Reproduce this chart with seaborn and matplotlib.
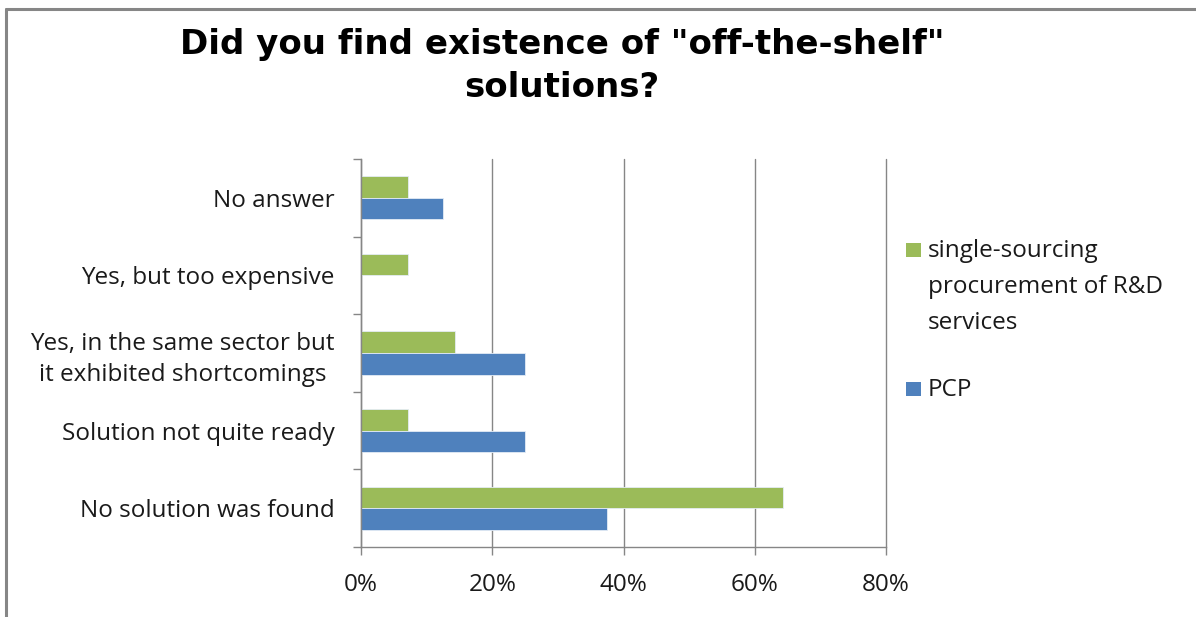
import matplotlib
matplotlib.use("Agg")
import matplotlib.pyplot as plt
from matplotlib.lines import Line2D
from matplotlib.patches import Rectangle
from matplotlib.ticker import FuncFormatter, FixedLocator
import seaborn as sns
import pandas as pd

# Survey answers, top to bottom
categories = [
    "No answer",
    "Yes, but too expensive",
    "Yes, in the same sector but\nit exhibited shortcomings",
    "Solution not quite ready",
    "No solution was found",
]
series_names = ["single-sourcing\nprocurement of R&D\nservices", "PCP"]
single_sourcing = [7.1, 7.1, 14.3, 7.1, 64.3]
pcp = [12.5, 0.0, 25.0, 25.0, 37.5]
x_ticks = [0, 20, 40, 60, 80]

colors = {series_names[0]: "#9BBB59", series_names[1]: "#4F81BD"}
text_color = "#1a1a1a"
frame_gray = "#868686"
label_size = 17.5

df = pd.DataFrame({
    "answer": categories * 2,
    "series": [series_names[0]] * len(categories) + [series_names[1]] * len(categories),
    "value": single_sourcing + pcp,
})

sns.set_theme(style="white")
plt.rcParams["font.family"] = ["Open Sans", "DejaVu Sans"]

W, H = 1196, 617
fig = plt.figure(figsize=(W / 100, H / 100), dpi=100)
ax = fig.add_axes([361 / W, 70 / H, 525 / W, 388 / H])

sns.barplot(
    data=df, x="value", y="answer", hue="series", orient="h",
    order=categories, hue_order=series_names, palette=colors, saturation=1,
    width=0.555, ax=ax, legend=False, edgecolor="#e4ecf5", linewidth=0.6,
    errorbar=None,
)

ax.set_xlim(0, 80)
ax.set_ylim(len(categories) - 0.5, -0.5)
ax.xaxis.set_major_locator(FixedLocator(x_ticks))
ax.xaxis.set_major_formatter(FuncFormatter(lambda v, p: f"{v:.0f}%"))
ax.grid(axis="x", color=frame_gray, linewidth=1.0)
ax.grid(axis="y", visible=False)
ax.set_axisbelow(True)
for gl in ax.get_xgridlines():
    gl.set_clip_on(False)
ax.set_xlabel("")
ax.set_ylabel("")

for side in ["top", "right"]:
    ax.spines[side].set_visible(False)
for side in ["left", "bottom"]:
    ax.spines[side].set_color(frame_gray)
    ax.spines[side].set_linewidth(1.0)

# Category boundary ticks on y, labels centred between them
ax.set_yticks([i + 0.5 for i in range(-1, len(categories))], minor=True)
ax.tick_params(axis="y", which="minor", length=6, color=frame_gray, width=1.0, direction="out", left=True)
ax.tick_params(axis="y", which="major", length=0, pad=19, labelsize=label_size, labelcolor=text_color)
ax.tick_params(axis="x", which="major", length=6, color=frame_gray, width=1.0, direction="out",
               bottom=True, pad=13, labelsize=label_size, labelcolor=text_color)
for lbl in ax.get_yticklabels():
    lbl.set_horizontalalignment("right")
    lbl.set_multialignment("center")
    lbl.set_linespacing(1.4)

fig.text(0.47, 1 - 28 / H, 'Did you find existence of "off-the-shelf"\nsolutions?',
         ha="center", va="top", fontsize=24.5, fontweight="bold",
         family="DejaVu Sans", linespacing=1.4, color="black")

# Legend: colour square beside the first line of each entry
legend_rows = [(series_names[0], 257), (series_names[1], 396)]
for name, baseline in legend_rows:
    fig.add_artist(Rectangle((906 / W, 1 - baseline / H), 14.5 / W, 14.5 / H,
                             transform=fig.transFigure, facecolor=colors[name], edgecolor="none"))
    for i, line in enumerate(name.split("\n")):
        fig.text(928 / W, 1 - (baseline + i * 36) / H, line, ha="left", va="baseline",
                 fontsize=label_size, color=text_color)

# Chart frame (left and top edges)
fig.add_artist(Line2D([6 / W, 6 / W], [0, 1 - 9 / H], transform=fig.transFigure,
                      color=frame_gray, linewidth=2.2))
fig.add_artist(Line2D([6 / W, 1], [1 - 9 / H, 1 - 9 / H], transform=fig.transFigure,
                      color=frame_gray, linewidth=2.2))

fig.savefig("out.png", dpi=100, facecolor="white")
